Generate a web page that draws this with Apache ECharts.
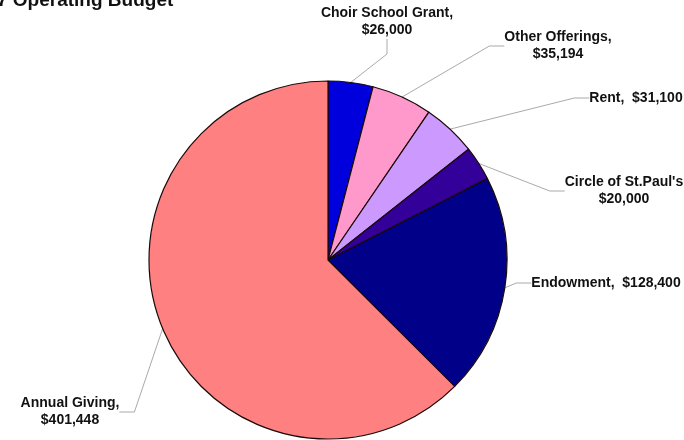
<!DOCTYPE html>
<html><head><meta charset="utf-8">
<script src="https://cdn.jsdelivr.net/npm/echarts@6/dist/echarts.min.js"></script>
<style>html,body{margin:0;padding:0;background:#fff}#c{width:684px;height:440px}</style>
</head><body><div id="c"></div>
<script>
const categories = ["Choir School Grant", "Other Offerings", "Rent", "Circle of St.Paul's", "Endowment", "Annual Giving"];
const values = [26000, 35194, 31100, 20000, 128400, 401448];
const labelTexts = ["Choir School Grant,\n$26,000", "Other Offerings,\n$35,194", "Rent,  $31,100", "Circle of St.Paul's\n$20,000", "Endowment,  $128,400", "Annual Giving,\n$401,448"];
const colors = ["#0000DD", "#FF99CC", "#CC99FF", "#330099", "#000088", "#FF8080"];
const labelPos = [[387,22],[558,46],[636,98],[624,191],[606,283],[70,412]];

const chart = echarts.init(document.getElementById('c'));
chart.setOption({
  animation: false,
  backgroundColor: '#fff',
  graphic: [{type:'text', left: -3, top: -9, style:{text:'7 Operating Budget', font:'bold 19px "Liberation Sans", Arial, sans-serif', fill:'#111'}}],
  series: [{
    type: 'pie',
    center: [328, 260],
    radius: 179,
    startAngle: 90,
    clockwise: true,
    data: categories.map((n,i)=>({name:n, value:values[i], itemStyle:{color:colors[i]}, label:{formatter: labelTexts[i]}})),
    itemStyle: {borderColor:'#1a0a0a', borderWidth:1.2},
    label: {show:true, overflow:'none', color:'#111', fontFamily:'"Liberation Sans", Arial, sans-serif', fontWeight:'bold', fontSize:14, lineHeight:17, align:'center'},
    labelLine: {show:true, length:15, length2:15, lineStyle:{color:'#aaa', width:1}},
    labelLayout: function(p){ const q = labelPos[p.dataIndex]; return {x:q[0], y:q[1], align:'center', verticalAlign:'middle'}; },
    emphasis: {disabled:true}
  }]
});
</script></body></html>
